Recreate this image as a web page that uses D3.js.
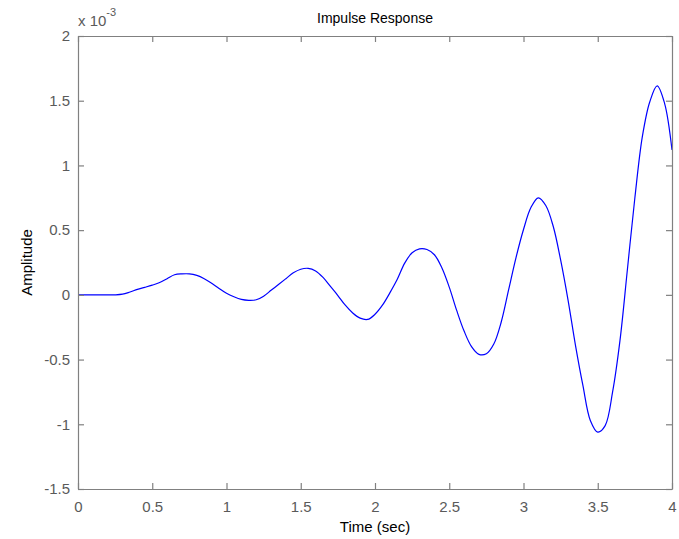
<!DOCTYPE html>
<html>
<head>
<meta charset="utf-8">
<script src="https://cdn.jsdelivr.net/npm/d3@7"></script>
<style>
  html, body { margin: 0; padding: 0; background: #fff; }
  svg { display: block; }
  text { font-family: "Liberation Sans", Arial, Helvetica, sans-serif; }
</style>
</head>
<body>
<svg id="chart" width="679" height="539"></svg>
<script>
// Data (amplitude in units of 1e-3)
const time = [0.00,0.05,0.10,0.15,0.20,0.25,0.30,0.35,0.40,0.45,0.50,0.55,0.60,0.65,0.70,0.75,0.80,0.85,0.90,0.95,
  1.00,1.05,1.10,1.15,1.20,1.25,1.30,1.35,1.40,1.45,1.50,1.55,1.60,1.65,1.70,1.75,1.80,1.85,1.90,1.95,
  2.00,2.05,2.10,2.15,2.20,2.25,2.30,2.35,2.40,2.45,2.50,2.55,2.60,2.65,2.70,2.75,2.80,2.85,2.90,2.95,
  3.00,3.05,3.10,3.15,3.20,3.25,3.30,3.35,3.40,3.45,3.50,3.55,3.60,3.65,3.70,3.75,3.80,3.85,3.90,3.95,4.00];
const amplitude = [0,0,0,0,0,0,0.005,0.022,0.042,0.058,0.075,0.095,0.125,0.155,0.162,0.162,0.15,0.125,0.09,0.05,
  0.012,-0.015,-0.035,-0.042,-0.038,-0.01,0.035,0.08,0.125,0.17,0.198,0.205,0.185,0.135,0.065,-0.005,-0.08,-0.14,-0.18,-0.19,
  -0.15,-0.08,0.015,0.12,0.245,0.325,0.355,0.35,0.31,0.21,0.06,-0.12,-0.28,-0.40,-0.46,-0.455,-0.38,-0.21,0.04,0.29,
  0.505,0.675,0.75,0.69,0.53,0.27,-0.04,-0.39,-0.70,-0.97,-1.06,-1.01,-0.75,-0.35,0.2,0.75,1.22,1.49,1.615,1.48,1.12];
const xTicks = [0,0.5,1,1.5,2,2.5,3,3.5,4];
const yTicks = [-1.5,-1,-0.5,0,0.5,1,1.5,2];
const titleText = "Impulse Response";
const xLabel = "Time (sec)";
const yLabel = "Amplitude";
const exponent = "-3";

const svg = d3.select("#chart");
const mLeft = 78, mRight = 672, mTop = 36, mBottom = 489;
const x = d3.scaleLinear().domain([0, 4]).range([mLeft, mRight]);
const y = d3.scaleLinear().domain([-1.5, 2]).range([mBottom, mTop]);
const axisColor = "#808080";
const labelColor = "#5a5a5a";
const fmt = d => String(+d.toFixed(2));

// Curve
const line = d3.line()
  .x((d, i) => x(time[i]))
  .y(d => y(d))
  .curve(d3.curveCatmullRom.alpha(0.5));
svg.append("path")
  .datum(amplitude)
  .attr("d", line)
  .attr("fill", "none")
  .attr("stroke", "#0000ff")
  .attr("stroke-width", 1.2);

function styleAxis(g, showLabels) {
  g.selectAll(".domain").attr("stroke", axisColor).attr("stroke-width", 1.2);
  g.selectAll(".tick line").attr("stroke", axisColor).attr("stroke-width", 1.2);
  g.selectAll(".tick text").attr("fill", labelColor).attr("font-size", "15px")
    .attr("font-family", "'Liberation Sans', Arial, sans-serif");
  if (!showLabels) g.selectAll(".tick text").remove();
}

const gb = svg.append("g").attr("transform", `translate(0,${mBottom})`)
  .call(d3.axisBottom(x).tickValues(xTicks).tickFormat(fmt).tickSizeInner(-6).tickSizeOuter(0).tickPadding(12));
styleAxis(gb, true);
const gt = svg.append("g").attr("transform", `translate(0,${mTop})`)
  .call(d3.axisTop(x).tickValues(xTicks).tickSizeInner(-6).tickSizeOuter(0));
styleAxis(gt, false);
const gl = svg.append("g").attr("transform", `translate(${mLeft},0)`)
  .call(d3.axisLeft(y).tickValues(yTicks).tickFormat(fmt).tickSizeInner(-6).tickSizeOuter(0).tickPadding(8));
styleAxis(gl, true);
const gr = svg.append("g").attr("transform", `translate(${mRight},0)`)
  .call(d3.axisRight(y).tickValues(yTicks).tickSizeInner(-6).tickSizeOuter(0));
styleAxis(gr, false);

// Title
svg.append("text").attr("x", (mLeft + mRight) / 2).attr("y", 23)
  .attr("text-anchor", "middle").attr("font-size", "14px").attr("fill", "#000")
  .text(titleText);
// X label
svg.append("text").attr("x", (mLeft + mRight) / 2).attr("y", 532)
  .attr("text-anchor", "middle").attr("font-size", "15px").attr("fill", "#000")
  .text(xLabel);
// Y label
svg.append("text").attr("transform", `translate(32,${(mTop + mBottom) / 2}) rotate(-90)`)
  .attr("text-anchor", "middle").attr("font-size", "15px").attr("fill", "#000")
  .text(yLabel);
// Exponent
const ex = svg.append("text").attr("x", mLeft).attr("y", 26)
  .attr("font-size", "15px").attr("fill", labelColor);
ex.append("tspan").text("x 10");
ex.append("tspan").attr("dy", -10).attr("font-size", "11px").text(exponent);
</script>
</body>
</html>
